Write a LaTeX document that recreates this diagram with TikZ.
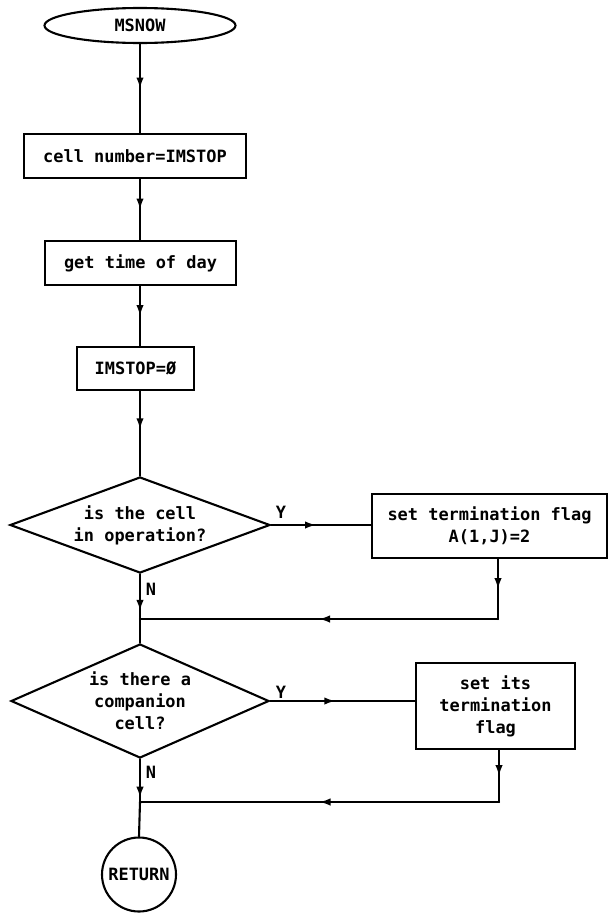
\documentclass[tikz,border=0pt]{standalone}
\usepackage{fontspec}
\newfontfamily\flowfont{DejaVu Sans Mono}
\usetikzlibrary{shapes.geometric,arrows.meta,decorations.markings}
\begin{document}
\begin{tikzpicture}[x=1bp,y=-1bp,
  every node/.style={font=\flowfont\bfseries\fontsize{17}{22}\selectfont,
    inner sep=0pt, align=center},
  line/.style={line width=2.1bp, line cap=round},
  flow/.style={line, postaction={decorate},
    decoration={markings, mark=at position #1 with
      {\arrow{Latex[length=11bp,width=7.5bp]}}}},
  flow/.default=0.5,
  procbox/.style={draw, rectangle, line width=2.1bp},
  terminal/.style={draw, ellipse, line width=2.1bp},
  decision/.style={draw, diamond, line width=2.1bp},
  label/.style={anchor=center}
]
\useasboundingbox (0,0) rectangle (609,913);

% main column and junction points
\coordinate (col) at (140,0);
\coordinate (j1) at (140,619);
\coordinate (k1) at (498,619);
\coordinate (j2) at (140,802);
\coordinate (k2) at (499,802);

% nodes
\node[terminal, minimum width=191bp, minimum height=35bp] (start) at (140,25.5) {MSNOW};
\node[procbox, minimum width=222bp, minimum height=44bp] (b1) at (135,156) {cell number=IMSTOP};
\node[procbox, minimum width=191bp, minimum height=44bp] (b2) at (140.5,263) {get time of day};
\node[procbox, minimum width=117bp, minimum height=43bp] (b3) at (135.5,368.5) {IMSTOP=Ø};
\node[decision, aspect=2.7, minimum width=260bp, minimum height=96bp] (d1) at (140,525) {is the cell\\in operation?};
\node[procbox, minimum width=235bp, minimum height=64bp] (f1) at (489.5,526) {set termination flag\\A(1,J)=2};
\node[decision, aspect=2.26, minimum width=258bp, minimum height=114bp] (d2) at (140,701) {is there a\\companion\\cell?};
\node[procbox, minimum width=159bp, minimum height=86bp] (f2) at (495.5,706) {set its\\termination\\flag};
\node[draw, circle, line width=2.1bp, minimum size=74bp] (ret) at (139,874.5) {RETURN};

% branch labels
\node[label] (y1) at (281,512) {Y};
\node[label] (n1) at (151,589) {N};
\node[label] (y2) at (281,692) {Y};
\node[label] (n2) at (151,772) {N};

% connectors
\draw[flow] (start.south) -- (col |- b1.north);
\draw[flow] (col |- b1.south) -- (col |- b2.north);
\draw[flow] (col |- b2.south) -- (col |- b3.north);
\draw[flow=0.45] (col |- b3.south) -- (d1.north);
\draw[flow=0.45] (d1.east) -- (d1.east -| f1.west);
\draw[flow] (k1 |- f1.south) -- (k1);
\draw[flow] (k1) -- (j1);
\draw[flow=0.82] (d1.south) -- (j1);
\draw[line] (j1) -- (d2.north);
\draw[flow=0.45] (d2.east) -- (d2.east -| f2.west);
\draw[flow] (k2 |- f2.south) -- (k2);
\draw[flow] (k2) -- (j2);
\draw[flow=0.9] (d2.south) -- (j2);
\draw[line] (j2) -- (ret.north);
\end{tikzpicture}
\end{document}
